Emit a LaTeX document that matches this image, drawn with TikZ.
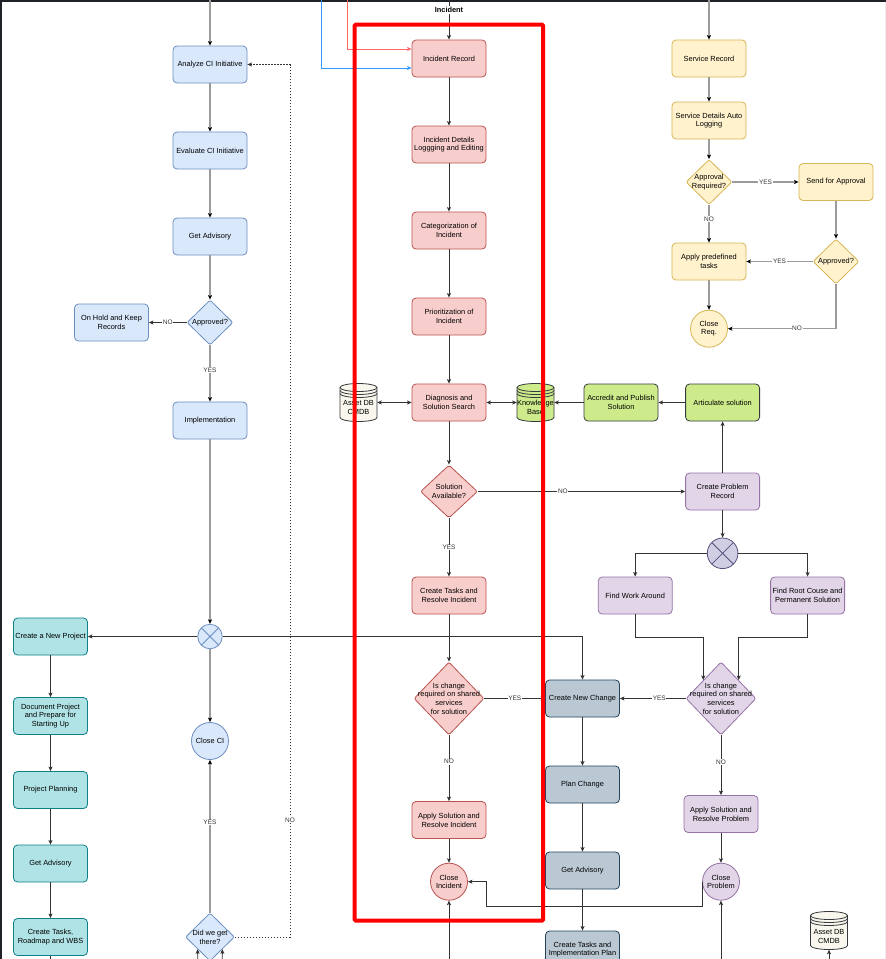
\documentclass[tikz,border=0pt]{standalone}
\usepackage{fontspec}
\setmainfont{Liberation Sans}
\usetikzlibrary{arrows.meta,shapes.geometric,calc}
\definecolor{ciF}{HTML}{DAE8FC}\definecolor{ciS}{HTML}{6C8EBF}
\definecolor{incF}{HTML}{F8CECC}\definecolor{incS}{HTML}{B85450}
\definecolor{svcF}{HTML}{FFF2CC}\definecolor{svcS}{HTML}{D6B656}
\definecolor{prjF}{HTML}{B0E3E6}\definecolor{prjS}{HTML}{0E8088}
\definecolor{chgF}{HTML}{BAC8D3}\definecolor{chgS}{HTML}{23445D}
\definecolor{prbF}{HTML}{E1D5E7}\definecolor{prbS}{HTML}{9673A6}
\definecolor{kbF}{HTML}{CDEB8B}\definecolor{kbS}{HTML}{36393D}
\definecolor{dbF}{HTML}{F9F7ED}\definecolor{dbS}{HTML}{36393D}
\definecolor{gwF}{HTML}{D0CEE2}\definecolor{gwS}{HTML}{56517E}
\definecolor{cGray}{HTML}{9B9B9B}\definecolor{cDark}{HTML}{333333}
\definecolor{cRedL}{HTML}{FF6666}\definecolor{cBlueL}{HTML}{3399FF}
\definecolor{cFrame}{HTML}{1E2227}\definecolor{cEdge}{HTML}{EEEEEE}
\newcommand\dfont{\fontsize{7.4}{8.7}\selectfont}
\newcommand\lfont{\fontsize{6.5}{7.5}\selectfont}
\newcommand\dbcyl[4]{%
  \draw[fill=#3, draw=#4, line width=0.8pt] ({#1-18.5},{#2-15}) -- ({#1-18.5},{#2+15})
     arc[start angle=180,end angle=0,x radius=18.5,y radius=4] -- ({#1+18.5},{#2-15})
     arc[start angle=0,end angle=-180,x radius=18.5,y radius=4] -- cycle;
  \draw[draw=#4, line width=0.8pt] ({#1-18.5},{#2-15}) arc[start angle=180,end angle=0,x radius=18.5,y radius=4];
  \draw[draw=#4, line width=0.8pt] ({#1-18.5},{#2-12}) arc[start angle=180,end angle=0,x radius=18.5,y radius=4];
  \draw[draw=#4, line width=0.8pt] ({#1-18.5},{#2-9}) arc[start angle=180,end angle=0,x radius=18.5,y radius=4];
}
\tikzset{
  box/.style={rounded corners=4pt, draw, line width=0.8pt, minimum width=74pt, minimum height=37pt,
     inner sep=1pt, align=center, font=\dfont, text=black},
  ciBox/.style={box, fill=ciF, draw=ciS},
  incBox/.style={box, fill=incF, draw=incS},
  svcBox/.style={box, fill=svcF, draw=svcS},
  prjBox/.style={box, fill=prjF, draw=prjS},
  chgBox/.style={box, fill=chgF, draw=chgS},
  prbBox/.style={box, fill=prbF, draw=prbS},
  kbBox/.style={box, fill=kbF, draw=kbS},
  dia/.style={diamond, draw, line width=0.8pt, inner sep=0pt, rounded corners=2pt},
  circ/.style={circle, draw, line width=0.8pt, inner sep=0pt, minimum size=37pt, align=center, font=\dfont, text=black},
  gw/.style={circle, draw=#1, line width=0.8pt, inner sep=0pt,
     path picture={\draw[#1, line width=0.8pt] (path picture bounding box.north west) -- (path picture bounding box.south east)
        (path picture bounding box.north east) -- (path picture bounding box.south west);}},
  txt/.style={align=center, font=\dfont, text=black, inner sep=0pt},
  dbnode/.style={minimum width=37pt, minimum height=38pt, inner sep=0pt},
  dbtxt/.style={align=center, font=\dfont, text=black, inner sep=0pt},
  tip/.style={-{Stealth[length=4.5pt,width=4pt,inset=1pt,color=black]}},
  grayarr/.style={draw=cGray, line width=1.4pt, tip},
  darkarr/.style={draw=cDark, line width=0.8pt, -{Stealth[length=4.5pt,width=4pt,inset=1pt]}},
  darkline/.style={draw=cDark, line width=0.8pt},
  darkboth/.style={draw=cDark, line width=0.8pt, {Stealth[length=4.5pt,width=4pt,inset=1pt]}-{Stealth[length=4.5pt,width=4pt,inset=1pt]}},
  dasharr/.style={draw=cDark, line width=0.7pt, dash pattern=on 1.5pt off 1.5pt, -{Stealth[length=4.5pt,width=4pt,inset=1pt]}},
  redarr/.style={draw=cRedL, line width=0.8pt, -{Stealth[length=4.5pt,width=4pt,inset=1pt]}},
  bluearr/.style={draw=cBlueL, line width=0.8pt, -{Stealth[length=4.5pt,width=4pt,inset=1pt]}},
  elab/.style={fill=white, inner sep=0.6pt, font=\lfont, text=cDark},
}
\begin{document}
\begin{tikzpicture}[x=1pt,y=-1pt]
\useasboundingbox (0,0) rectangle (886,959);
\fill[white] (0,0) rectangle (886,959);
\fill[cEdge] (884.5,0) rectangle (886,959);
\fill[cFrame] (0,0) rectangle (886,1.5);
\fill[cFrame] (0,0) rectangle (1.5,959);

% ---------- CI column ----------
\node[ciBox] (ci1) at (210,64.5) {Analyze CI Initiative};
\node[ciBox] (ci2) at (210,150.5) {Evaluate CI Initiative};
\node[ciBox] (ci3) at (210,236.5) {Get Advisory};
\node[dia, fill=ciF, draw=ciS, minimum width=46pt, minimum height=45pt] (ci4) at (210,322.5) {};
\node[txt] (ci4t) at (ci4) {Approved?};
\node[ciBox] (ci5) at (111.5,322.5) {On Hold and Keep\\Records};
\node[ciBox] (ci6) at (210,420.5) {Implementation};
\node[gw=ciS, fill=ciF, minimum size=24.5pt] (cigw) at (210,636.5) {};
\node[circ, fill=ciF, draw=ciS] (ci7) at (210,741) {Close CI};
\node[dia, fill=ciF, draw=ciS, minimum width=49pt, minimum height=48pt] (ci8) at (210,937) {};
\node[txt] (ci8t) at (ci8) {Did we get\\there?};

% ---------- Project column ----------
\node[prjBox] (p1) at (50.5,636.5) {Create a New Project};
\node[prjBox] (p2) at (50.5,716) {Document Project\\and Prepare for\\Starting Up};
\node[prjBox] (p3) at (50.5,790) {Project Planning};
\node[prjBox] (p4) at (50.5,863.5) {Get Advisory};
\node[prjBox] (p5) at (50.5,937) {Create Tasks,\\Roadmap and WBS};

% ---------- Incident column ----------
\node[incBox] (i1) at (449,58.5) {Incident Record};
\node[incBox] (i2) at (449,144.5) {Incident Details\\Loggging and Editing};
\node[incBox] (i3) at (449,230.5) {Categorization of\\Incident};
\node[incBox] (i4) at (449,316.5) {Prioritization of\\Incident};
\node[incBox] (i5) at (449,402.5) {Diagnosis and\\Solution Search};
\node[dbnode] (adb) at (358.5,402.5) {};
\dbcyl{358.5}{402.5}{dbF}{dbS}
\node[dbtxt] (adbt) at (358.5,407.5) {Asset DB\\CMDB};
\node[dbnode] (kb) at (535.5,402.5) {};
\dbcyl{535.5}{402.5}{kbF}{kbS}
\node[dbtxt] (kbt) at (535.5,407.5) {Knowledge\\Base};
\node[dia, fill=incF, draw=incS, minimum width=57pt, minimum height=53pt] (i6) at (449,491.5) {};
\node[txt] (i6t) at (i6) {Solution\\Available?};
\node[incBox] (i7) at (449,595.5) {Create Tasks and\\Resolve Incident};
\node[dia, fill=incF, draw=incS, minimum width=70pt, minimum height=73pt] (i8) at (449,698.5) {};
\node[txt] (i8t) at (i8) {Is change\\required on shared\\services\\for solution};
\node[incBox] (i9) at (449,820) {Apply Solution and\\Resolve Incident};
\node[circ, fill=incF, draw=incS] (i10) at (449,881.7) {Close\\Incident};

% ---------- Knowledge ----------
\node[kbBox] (g1) at (621,402.5) {Accredit and Publish\\Solution};
\node[kbBox] (g2) at (722.6,402.5) {Articulate solution};

% ---------- Service column ----------
\node[svcBox] (s1) at (709,58.5) {Service Record};
\node[svcBox] (s2) at (709,120.5) {Service Details Auto\\Logging};
\node[dia, fill=svcF, draw=svcS, minimum width=46pt, minimum height=45pt] (s3) at (709,182) {};
\node[txt] (s3t) at (s3) {Approval\\Required?};
\node[svcBox] (s4) at (836,182) {Send for Approval};
\node[svcBox] (s5) at (709,261.5) {Apply predefined\\tasks};
\node[dia, fill=svcF, draw=svcS, minimum width=46pt, minimum height=45pt] (s6) at (836,261.5) {};
\node[txt] (s6t) at (s6) {Approved?};
\node[circ, fill=svcF, draw=svcS] (s7) at (709,328.7) {Close\\Req.};

% ---------- Problem column ----------
\node[prbBox] (r1) at (722.6,491.5) {Create Problem\\Record};
\node[gw=gwS, fill=gwF, minimum size=30.6pt] (rgw) at (722.6,553.3) {};
\node[prbBox] (r2) at (635.2,595.5) {Find Work Around};
\node[prbBox] (r3) at (807.6,595.5) {Find Root Couse and\\Permanent Solution};
\node[dia, fill=prbF, draw=prbS, minimum width=70pt, minimum height=73pt] (r4) at (721,698.5) {};
\node[txt] (r4t) at (r4) {Is change\\required on shared\\services\\for solution};
\node[prbBox] (r5) at (721,814) {Apply Solution and\\Resolve Problem};
\node[circ, fill=prbF, draw=prbS] (r6) at (721,881.7) {Close\\Problem};
\node[dbnode] (adb2) at (829,930.5) {};
\dbcyl{829}{930.5}{dbF}{dbS}
\node[dbtxt] (adb2t) at (829,936.5) {Asset DB\\CMDB};

% ---------- Change column ----------
\node[chgBox] (c1) at (582.5,698.5) {Create New Change};
\node[chgBox] (c2) at (582.5,784.5) {Plan Change};
\node[chgBox] (c3) at (582.5,870.5) {Get Advisory};
\node[chgBox] (c4) at (582.5,949.5) {Create Tasks and\\Implementation Plan};

% ---------- free ends ----------
\coordinate (tci) at (210,0);
\coordinate (tinc) at (449,0);
\coordinate (tred) at (347,0);
\coordinate (tblue) at (321,0);
\coordinate (tsvc) at (709,0);
\coordinate (dA) at (290,937);
\coordinate (dB) at (290,64.5);
\coordinate (bD1) at (197.75,959);
\coordinate (bD2) at (222.25,959);
\coordinate (pEnd) at (50.5,959);
\coordinate (bInc) at (449,959);
\coordinate (bPrb) at (721,959);
\coordinate (bDb) at (829,959);
\coordinate (ciBend) at (486,906);

% ---------- CI connectors ----------
\draw[grayarr] (tci) -- (ci1);
\draw[grayarr] (ci1) -- (ci2);
\draw[grayarr] (ci2) -- (ci3);
\draw[grayarr] (ci3) -- (ci4);
\draw[grayarr] (ci4) -- node[elab, pos=0.44]{YES} (ci6);
\draw[darkarr] (ci4) -- node[elab]{NO} (ci5);
\draw[grayarr] (ci6) -- (cigw);
\draw[darkarr] (cigw) -- (p1);
\draw[darkarr] (cigw.east) -| (c1.north);
\draw[grayarr] (cigw) -- (ci7);
\draw[grayarr] (ci8) -- node[elab, pos=0.59]{YES} (ci7);
\draw[dasharr] (ci8.east) -- (dA) -- node[elab, pos=0.134]{NO} (dB) -- (ci1.east);
\draw[darkarr] (bD1) -- (ci8.south west);
\draw[darkarr] (bD2) -- (ci8.south east);

% ---------- Project connectors ----------
\draw[darkarr] (p1) -- (p2);
\draw[darkarr] (p2) -- (p3);
\draw[darkarr] (p3) -- (p4);
\draw[darkarr] (p4) -- (p5);
\draw[darkline] (p5) -- (pEnd);

% ---------- Incident connectors ----------
\draw[darkarr] (tinc) -- node[pos=0.25, fill=white, inner sep=1pt, font=\bfseries\dfont, text=black] (inclab) {Incident} (i1);
\draw[redarr] (tred) |- ($(i1.west)+(0,-9.5)$);
\draw[bluearr] (tblue) |- ($(i1.west)+(0,9.5)$);
\draw[darkarr] (i1) -- (i2);
\draw[darkarr] (i2) -- (i3);
\draw[darkarr] (i3) -- (i4);
\draw[darkarr] (i4) -- (i5);
\draw[darkboth] (adb) -- (i5);
\draw[darkboth] (i5) -- (kb);
\draw[darkarr] (g1) -- (kb);
\draw[darkarr] (g2) -- (g1);
\draw[darkarr] (i5) -- (i6);
\draw[darkarr] (i6) -- node[elab]{YES} (i7);
\draw[darkarr] (i6) -- node[elab, pos=0.41]{NO} (r1);
\draw[darkarr] (i7) -- (i8);
\draw[darkarr] (i8) -- node[elab]{YES} (c1);
\draw[darkarr] (i8) -- node[elab, pos=0.4]{NO} (i9);
\draw[darkarr] (i9) -- (i10);
\draw[darkarr] (bInc) -- (i10);

% ---------- Service connectors ----------
\draw[grayarr] (tsvc) -- (s1);
\draw[grayarr] (s1) -- (s2);
\draw[grayarr] (s2) -- (s3);
\draw[grayarr] (s3) -- node[elab]{YES} (s4);
\draw[grayarr] (s3) -- node[elab, pos=0.38]{NO} (s5);
\draw[grayarr] (s4) -- (s6);
\draw[grayarr] (s6) -- node[elab]{YES} (s5);
\draw[grayarr] (s6.south) |- node[elab, pos=0.68]{NO} (s7);
\draw[grayarr] (s5) -- (s7);

% ---------- Problem connectors ----------
\draw[darkarr] (r1) -- (g2);
\draw[darkarr] (r1) -- (rgw);
\draw[darkarr] (rgw.west) -| (r2.north);
\draw[darkarr] (rgw.east) -| (r3.north);
\draw[darkarr] (r2.south) -- ++(0,23.3) -| (r4.north west);
\draw[darkarr] (r3.south) -- ++(0,23.3) -| (r4.north east);
\draw[darkarr] (r4) -- node[elab, pos=0.4]{YES} (c1);
\draw[darkarr] (r4) -- node[elab, pos=0.45]{NO} (r5);
\draw[darkarr] (r5) -- (r6);
\draw[darkarr] (bPrb) -- (r6);
\draw[darkarr] (r6.west) |- (ciBend) |- (i10.east);
\draw[darkarr] (bDb) -- (adb2.south);

% ---------- Change connectors ----------
\draw[darkarr] (c1) -- (c2);
\draw[darkarr] (c2) -- (c3);
\draw[darkarr] (c3) -- (c4);

% ---------- highlight ----------
\draw[red, line width=4pt, rounded corners=1pt] (354.7,24.7) rectangle (543,920.5);
\end{tikzpicture}
\end{document}
